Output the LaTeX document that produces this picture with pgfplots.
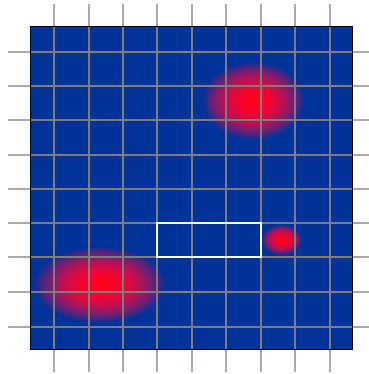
\documentclass[border=0pt]{standalone}
\usepackage{pgfplots}
\pgfplotsset{compat=1.18}
\usetikzlibrary{shapes.geometric}
\definecolor{bgblue}{RGB}{0,51,153}
\definecolor{gridgray}{RGB}{125,125,125}
\definecolor{tickgray}{RGB}{170,170,170}
\tikzset{blob/.style 2 args={ellipse, fill=bgblue, draw=none,
   inner sep=0pt, outer sep=0pt, anchor=center,
   minimum width=#1, minimum height=#2,
   path picture={%
    \foreach \k in {50,49,...,1}{%
     \pgfmathsetmacro\blobt{\k/50}%
     \pgfmathsetmacro\blobr{1-(\blobt)^2.4}%
     \pgfmathsetmacro\blobg{0.2*(\blobt)^2}%
     \pgfmathsetmacro\blobb{0.09+0.51*(\blobt)^1.4}%
     \definecolor{blobc}{rgb}{\blobr,\blobg,\blobb}%
     \fill[blobc] (path picture bounding box.center) ellipse [x radius={\blobt*#1/2}, y radius={\blobt*#2/2}];
    }}}}
\pgfplotsset{
 common/.style={
  scale only axis, width=321pt, height=322pt,
  xmin=31, xmax=352, ymin=25, ymax=347,
 },
}
\begin{document}
\begin{tikzpicture}
% background and blobs
\begin{axis}[
 common,
 axis background/.style={fill=bgblue},
 xtick=\empty, ytick=\empty,
 axis line style={draw=none},
]
\addplot[draw=none, mark=none] coordinates {(253.5,273) (253.5,273)} node[pos=0.5, blob={104pt}{79pt}] {};
\addplot[draw=none, mark=none] coordinates {(100,89) (100,89)} node[pos=0.5, blob={134pt}{78pt}] {};
\addplot[draw=none, mark=none] coordinates {(282,134) (282,134)} node[pos=0.5, blob={42pt}{31pt}] {};
\coordinate (SW) at (rel axis cs:0,0);
\end{axis}
% grid, ticks and frame on top
\begin{axis}[
 common,
 xtick={54,88.7,123,157.3,191.7,226.3,261,295.3,330},
 ytick={47.3,82,116.7,151.3,184.7,219,253.7,288,322.3},
 xticklabel=\empty, yticklabel=\empty,
 tick pos=both, tick align=outside,
 major tick length=22.5pt,
 major tick style={color=tickgray, line width=1.7pt},
 grid=major,
 major grid style={color=gridgray, line width=1.7pt},
 axis line style={black, line width=1pt},
]
\end{axis}
% white rectangle
\begin{axis}[common, hide axis]
\addplot[white, line width=2.2pt, line join=miter] coordinates {(157.3,151.3) (261,151.3) (261,116.7) (157.3,116.7)} -- cycle;
\end{axis}
\pgfresetboundingbox
\path[use as bounding box] (SW) ++(-31pt,-25pt) rectangle ++(368pt,374pt);
\end{tikzpicture}
\end{document}
